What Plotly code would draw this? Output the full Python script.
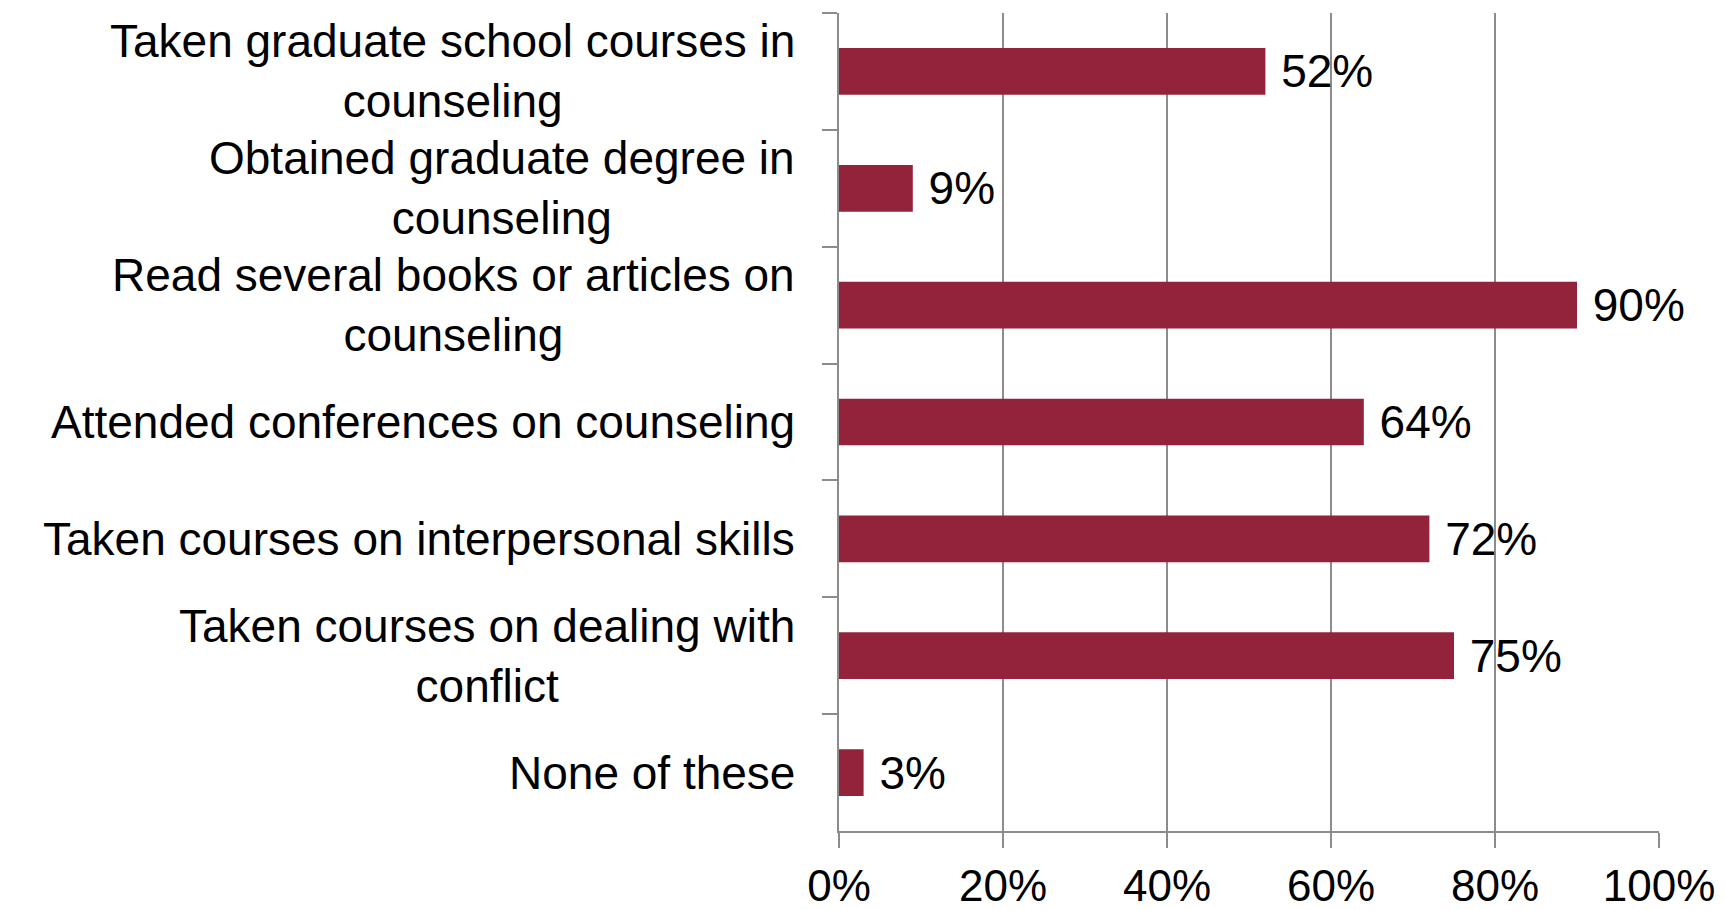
import plotly.graph_objects as go

categories = [
    "Taken graduate school courses in<br>counseling",
    "Obtained graduate degree in<br>counseling",
    "Read several books or articles on<br>counseling",
    "Attended conferences on counseling",
    "Taken courses on interpersonal skills",
    "Taken courses on dealing with<br>conflict",
    "None of these",
]
values = [0.52, 0.09, 0.90, 0.64, 0.72, 0.75, 0.03]
value_labels = ["52%", "9%", "90%", "64%", "72%", "75%", "3%"]
tick_values = [0, 0.2, 0.4, 0.6, 0.8, 1.0]
tick_labels = ["0%", "20%", "40%", "60%", "80%", "100%"]

FONT = "Liberation Sans, Arial, sans-serif"
BAR = "#93233A"
GRID = "#8C8C8C"

fig = go.Figure()
fig.add_trace(go.Bar(
    x=values,
    y=categories,
    orientation="h",
    marker=dict(color=BAR, line=dict(width=0)),
    text=value_labels,
    texttemplate="&nbsp;%{text}",
    textposition="outside",
    textfont=dict(family=FONT, size=46, color="black"),
    constraintext="none",
    cliponaxis=False,
    hoverinfo="skip",
))

for cat in categories:
    fig.add_annotation(
        x=0, xref="paper", y=cat, yref="y",
        text=cat, showarrow=False,
        xanchor="right", yanchor="middle", align="center",
        xshift=-42,
        font=dict(family=FONT, size=46, color="black"),
    )

fig.update_layout(
    width=1725, height=910,
    margin=dict(l=839, r=66, t=13, b=79, autoexpand=False),
    paper_bgcolor="white", plot_bgcolor="white",
    showlegend=False,
    bargap=0.6,
    font=dict(family=FONT, color="black"),
)
fig.update_xaxes(
    range=[0, 1.0],
    tickvals=tick_values, ticktext=tick_labels,
    tickfont=dict(family=FONT, size=44, color="black"),
    showgrid=True, gridcolor=GRID, gridwidth=1.5,
    showline=True, linecolor=GRID, linewidth=1.5,
    ticks="outside", ticklen=15, tickcolor=GRID, tickwidth=1.5,
    ticklabelstandoff=0,
    zeroline=False,
    automargin=False,
)
fig.update_yaxes(
    categoryorder="array", categoryarray=categories,
    autorange="reversed",
    showticklabels=False,
    showgrid=False,
    showline=True, linecolor=GRID, linewidth=1.5,
    ticks="outside", ticklen=15, tickcolor=GRID, tickwidth=1.5,
    tickson="boundaries",
    zeroline=False,
    automargin=False,
)

fig.write_html(
    "out.html",
    config={"displayModeBar": False},
    post_script="document.body.style.margin='0';document.body.style.overflow='hidden';",
)
